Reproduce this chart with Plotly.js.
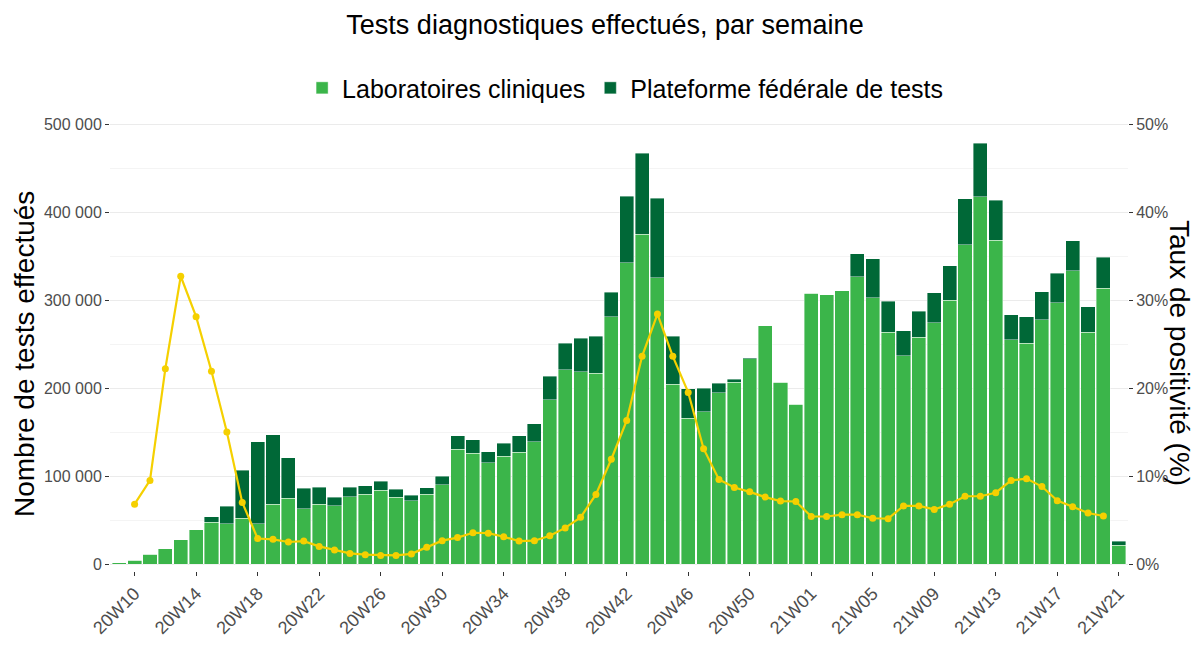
<!DOCTYPE html>
<html>
<head>
<meta charset="utf-8">
<script src="https://cdn.plot.ly/plotly-3.0.1.min.js"></script>
<style>html,body{margin:0;padding:0;background:#fff;}#chart{width:1196px;height:645px;}</style>
</head>
<body>
<div id="chart"></div>
<script>
const semaines = ["20W09","20W10","20W11","20W12","20W13","20W14","20W15","20W16","20W17","20W18","20W19","20W20","20W21","20W22","20W23","20W24","20W25","20W26","20W27","20W28","20W29","20W30","20W31","20W32","20W33","20W34","20W35","20W36","20W37","20W38","20W39","20W40","20W41","20W42","20W43","20W44","20W45","20W46","20W47","20W48","20W49","20W50","20W51","20W52","20W53","21W01","21W02","21W03","21W04","21W05","21W06","21W07","21W08","21W09","21W10","21W11","21W12","21W13","21W14","21W15","21W16","21W17","21W18","21W19","21W20","21W21"];

const laboratoires = [1500,4500,11000,17400,27600,39000,47300,46000,52000,45500,67800,74600,62900,67800,66300,76500,79500,84000,75800,71600,79200,89800,130300,125800,115200,122300,126900,139000,186700,220500,218600,216700,281000,342400,375000,325400,204100,165500,173000,194700,206800,233000,270800,206500,181800,307600,306000,310600,326500,302700,263600,236700,257900,274200,300000,362900,417400,367800,254900,251100,277700,296600,333300,263600,313300,21200];

const plateforme = [0,0,0,0,0,0,6500,19500,54400,93500,78800,45900,23100,19700,9800,10600,9500,10300,9400,6800,7500,10200,15200,15500,12100,14800,18600,20500,26900,30300,37800,42300,28000,75600,91700,90100,54900,33700,27000,10600,3000,1500,0,0,0,0,0,0,26200,44300,34900,28100,29200,33800,39000,51900,61000,45500,28100,29900,31800,33700,34100,28800,35200,4600];

const positivite = [null,6.8,9.5,22.2,32.7,28.1,21.9,15.0,7.0,2.9,2.8,2.5,2.6,2.0,1.6,1.2,1.06,0.98,0.98,1.15,1.9,2.65,3.0,3.55,3.5,3.1,2.6,2.65,3.2,4.1,5.3,7.9,11.9,16.3,23.6,28.4,23.6,19.5,13.1,9.6,8.7,8.2,7.6,7.15,7.1,5.4,5.4,5.6,5.6,5.2,5.15,6.6,6.6,6.2,6.8,7.7,7.7,8.1,9.5,9.7,8.8,7.2,6.5,5.8,5.45,null];

const ticksX = ["20W10","20W14","20W18","20W22","20W26","20W30","20W34","20W38","20W42","20W46","20W50","21W01","21W05","21W09","21W13","21W17","21W21"];
const ticksY = [0,100000,200000,300000,400000,500000];
const ticksYLabels = ["0","100 000","200 000","300 000","400 000","500 000"];
const ticksY2 = [0,10,20,30,40,50];
const ticksY2Labels = ["0%","10%","20%","30%","40%","50%"];

const FONT = "Liberation Sans, Arial, sans-serif";
const traces = [
  {type:"bar", name:"Laboratoires cliniques", x:semaines, y:laboratoires,
   marker:{color:"#3bb54a", line:{color:"#ffffff", width:0.4}}, hoverinfo:"x+y"},
  {type:"bar", name:"Plateforme fédérale de tests", x:semaines, y:plateforme,
   marker:{color:"#006837", line:{color:"#ffffff", width:0.4}}, hoverinfo:"x+y"},
  {type:"scatter", mode:"lines+markers", name:"Taux de positivité", x:semaines, y:positivite,
   yaxis:"y2", showlegend:false, connectgaps:false,
   line:{color:"#f5d000", width:2.2}, marker:{color:"#f5d000", size:7}}
];

const layout = {
  width:1196, height:645,
  margin:{l:110, r:68, t:115, b:74},
  paper_bgcolor:"#ffffff", plot_bgcolor:"#ffffff",
  font:{family:FONT, color:"#000000"},
  barmode:"stack", bargap:0.085,
  title:{text:"Tests diagnostiques effectués, par semaine", x:605/1196, xref:"container", xanchor:"center",
         y:1-25/645, yref:"container", yanchor:"middle", font:{size:27, color:"#000000", family:FONT}},
  showlegend:true,
  legend:{orientation:"h", x:0.506, xanchor:"center", y:1.059, yanchor:"middle",
          font:{size:25, color:"#000000", family:FONT}, itemwidth:30, traceorder:"normal", bgcolor:"rgba(0,0,0,0)"},
  xaxis:{type:"category", range:[-0.6, 65.6], tickmode:"array", tickvals:ticksX, ticktext:ticksX,
         tickangle:-45, ticks:"outside", ticklen:4, tickcolor:"#333333", tickwidth:1,
         tickfont:{size:18, color:"#4d4d4d", family:FONT}, showgrid:false, zeroline:false, showline:false,
         automargin:false, fixedrange:true},
  yaxis:{range:[-7955, 510227], tickmode:"array", tickvals:ticksY, ticktext:ticksYLabels,
         ticks:"outside", ticklen:4, tickcolor:"#333333", tickwidth:1,
         tickfont:{size:16, color:"#4d4d4d", family:FONT},
         showgrid:true, gridcolor:"#ebebeb", gridwidth:1, zeroline:false, showline:false,
         minor:{dtick:50000, tick0:0, showgrid:true, gridcolor:"#f4f4f4", gridwidth:1, ticks:""},
         automargin:false, fixedrange:true},
  yaxis2:{overlaying:"y", side:"right", range:[-0.7955, 51.0227], tickmode:"array", tickvals:ticksY2, ticktext:ticksY2Labels,
          ticks:"outside", ticklen:4, tickcolor:"#333333", tickwidth:1,
          tickfont:{size:16, color:"#4d4d4d", family:FONT},
          showgrid:false, zeroline:false, showline:false, automargin:false, fixedrange:true},
  annotations:[
    {text:"Nombre de tests effectués", xref:"paper", yref:"paper", x:0, y:0.5, xanchor:"center", yanchor:"middle",
     xshift:-86, yshift:-11, textangle:-90, showarrow:false, font:{size:28, color:"#000000", family:FONT}},
    {text:"Taux de positivité (%)", xref:"paper", yref:"paper", x:1, y:0.5, xanchor:"center", yanchor:"middle",
     xshift:52, yshift:-10, textangle:90, showarrow:false, font:{size:28, color:"#000000", family:FONT}}
  ]
};

Plotly.newPlot("chart", traces, layout, {displayModeBar:false, staticPlot:true});
</script>
</body>
</html>
